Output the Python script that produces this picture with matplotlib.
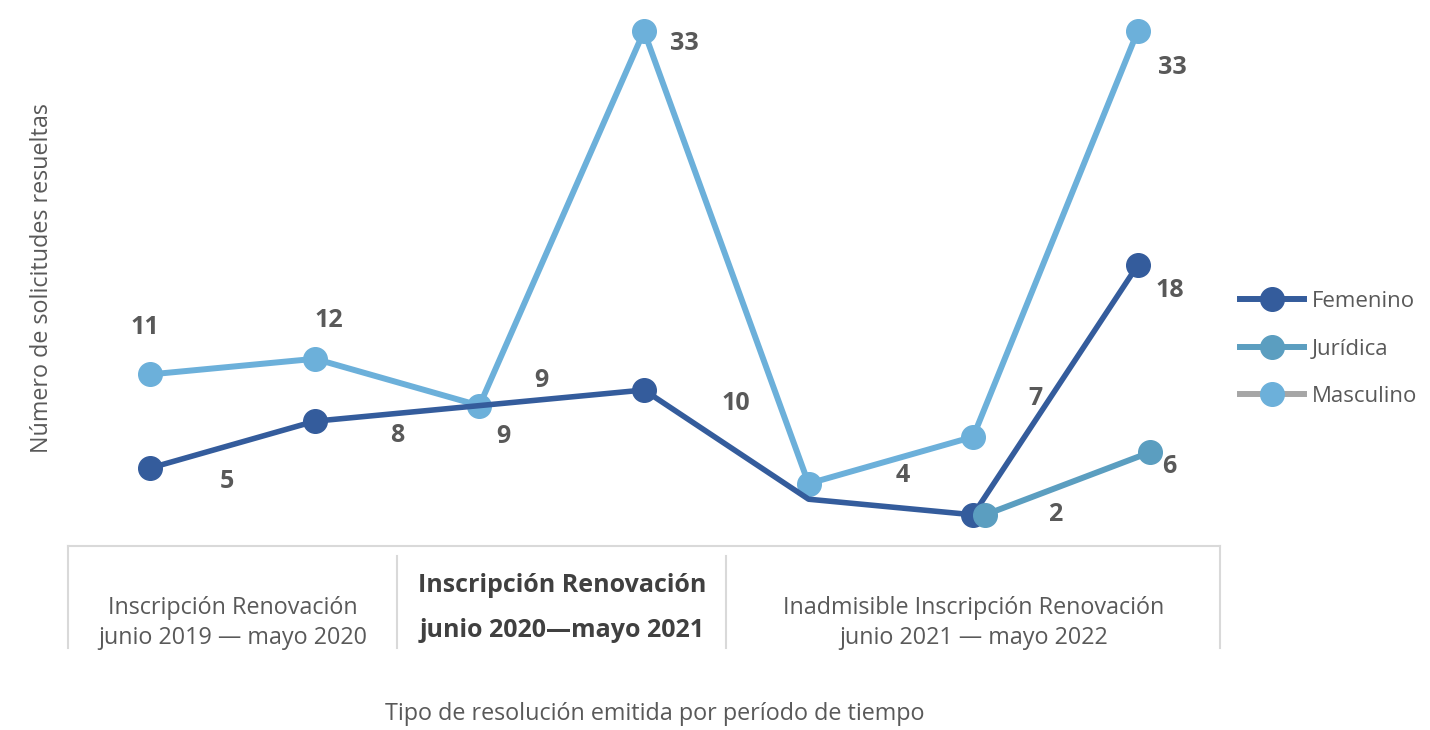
import matplotlib
matplotlib.use("Agg")
import matplotlib.pyplot as plt
import matplotlib.transforms as mtransforms
import numpy as np
from matplotlib.lines import Line2D

plt.rcParams["font.family"] = ["Open Sans", "DejaVu Sans"]

# ==================== data ====================
categories = ["Inscripción", "Renovación", "Inscripción", "Renovación",
              "Inadmisible", "Inscripción", "Renovación"]
group_labels = ["Inscripción Renovación\njunio 2019 — mayo 2020",
                "Inscripción Renovación\n\njunio 2020—mayo 2021",
                "Inadmisible Inscripción Renovación\njunio 2021 — mayo 2022"]
group_sizes = [2, 2, 3]

femenino = [5, 8, 9, 10, 3, 2, 18]
juridica = [np.nan, np.nan, np.nan, np.nan, np.nan, 2, 6]
masculino = [11, 12, 9, 33, 4, 7, 33]

# ==================== style ====================
C_FEM = "#345C9C"
C_JUR = "#5B9EC0"
C_MAS = "#6CB0DA"
C_TEXT = "#595959"
FS = 16.8
FS_NUM = 18

# label offsets (pixels) per point, None = no label
fem_off = [(77, -13), (82, -14), (24, -31), (92, -14), None, None, (32, -25)]
jur_off = [None, None, None, None, None, (82, 0), (32, -14)]
mas_off = [(-5, 47), (14, 38), (62, 25), (40, -12), (94, 8), (62, 38), (35, -36)]
fem_markers = [0, 1, 3, 5, 6]

fig = plt.figure(figsize=(14.3, 7.3), dpi=100)
ax = fig.add_axes([68 / 1430, 184 / 730, (1220 - 68) / 1430, 546 / 730])

x = np.arange(len(categories))
ax.plot(x, masculino, color=C_MAS, lw=4.3, marker="o", ms=17, zorder=2)
ax.plot(x, femenino, color=C_FEM, lw=4.0, zorder=3)
ax.plot(x[fem_markers], np.array(femenino)[fem_markers], ls="none",
        marker="o", ms=17, color=C_FEM, zorder=3)
# Jurídica nudged a few pixels right so it does not hide Femenino
jur_tr = mtransforms.offset_copy(ax.transData, fig=fig, x=12, y=0, units="dots")
ax.plot(x, juridica, color=C_JUR, lw=4.3, marker="o", ms=17, zorder=4,
        transform=jur_tr)

for vals, offs in [(femenino, fem_off), (juridica, jur_off), (masculino, mas_off)]:
    for i, (v, o) in enumerate(zip(vals, offs)):
        if o is None or np.isnan(v):
            continue
        ax.annotate(f"{v:g}", xy=(i, v), xytext=o, textcoords="offset pixels",
                    ha="center", va="center", fontsize=FS_NUM, fontweight="bold",
                    color=C_TEXT, zorder=6)

ax.set_xlim(-0.5, len(categories) - 0.5)
ax.set_ylim(0, 35)
ax.set_xticks([])
ax.set_yticks([])
for s in ax.spines.values():
    s.set_visible(False)
ax.spines["bottom"].set_visible(True)
ax.spines["bottom"].set_color("#D9D9D9")
ax.spines["bottom"].set_linewidth(1.5)

# category table below the axis
trans = ax.get_xaxis_transform()
edges = np.concatenate([[0], np.cumsum(group_sizes)]) - 0.5
for j, e in enumerate(edges):
    top = 0 if j in (0, len(edges) - 1) else -10 / 546
    ax.plot([e, e], [top, -102 / 546], transform=trans, color="#D9D9D9",
            lw=1.5, clip_on=False)
for j, lab in enumerate(group_labels):
    cx = (edges[j] + edges[j + 1]) / 2
    if j == 1:
        ax.text(cx, -62 / 546, lab, transform=trans, ha="center", va="center",
                fontsize=18, fontweight="bold", color="#404040",
                linespacing=0.85)
    else:
        ax.text(cx, -77 / 546, lab, transform=trans, ha="center", va="center",
                fontsize=FS, color=C_TEXT, linespacing=1.3)

fig.text(655 / 1430, 1 - 714 / 730, "Tipo de resolución emitida por período de tiempo",
         ha="center", va="center", fontsize=FS, color=C_TEXT)
fig.text(42 / 1430, 1 - 278 / 730, "Número de solicitudes resueltas",
         rotation=90, ha="center", va="center", fontsize=FS, color=C_TEXT)

handles = [
    Line2D([], [], color=C_FEM, lw=4.3, marker="o", ms=17),
    Line2D([], [], color=C_JUR, lw=4.3, marker="o", ms=17),
    Line2D([], [], color="#A6A6A6", lw=4.3, marker="o", ms=17,
           markerfacecolor=C_MAS, markeredgecolor=C_MAS),
]
leg = fig.legend(handles, ["Femenino", "Jurídica", "Masculino"],
                 loc="center left", bbox_to_anchor=(1240 / 1430, 1 - 349 / 730),
                 frameon=False, fontsize=16, handlelength=2.9, labelspacing=1.2,
                 handletextpad=0.35, borderpad=0, borderaxespad=0)
for t in leg.get_texts():
    t.set_color(C_TEXT)

fig.savefig("out.png", dpi=100, facecolor="white")
